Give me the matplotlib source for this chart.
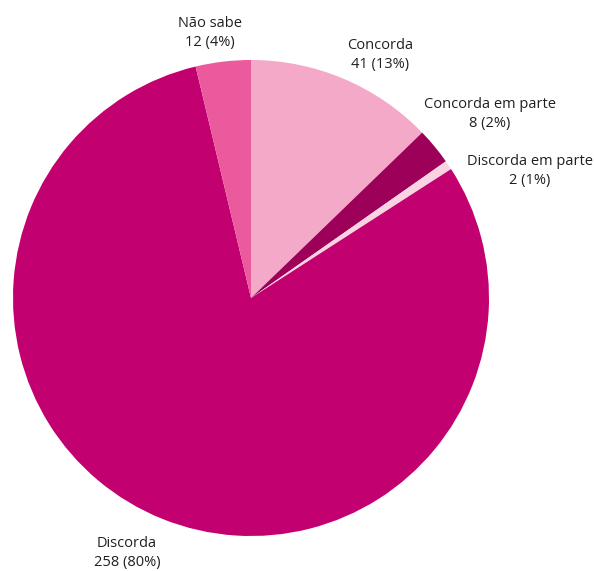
import matplotlib
matplotlib.use("Agg")
import matplotlib.pyplot as plt

categories = ["Concorda", "Concorda em parte", "Discorda em parte", "Discorda", "Não sabe"]
values = [41, 8, 2, 258, 12]
percents = [13, 2, 1, 80, 4]
colors = ["#F4A9C9", "#9C0058", "#FAD3E3", "#C3006F", "#EC5A9E"]

W, H = 594, 571
fig = plt.figure(figsize=(W / 100, H / 100), dpi=100)
ax = fig.add_axes([0, 0, 1, 1])
ax.pie(values, colors=colors, startangle=90, counterclock=False,
       center=(251, H - 298), radius=238, frame=True,
       wedgeprops=dict(linewidth=0))
ax.set_xlim(0, W)
ax.set_ylim(0, H)
ax.set_aspect("equal")
ax.axis("off")

label_pos = [(380, 55), (490, 114), (530, 171), (127, 553), (210, 33)]
for cat, v, p, (x, y) in zip(categories, values, percents, label_pos):
    ax.text(x, H - y, f"{cat}\n{v} ({p}%)", ha="center", va="center",
            fontsize=10.5, color="#231F20", family=["Open Sans", "DejaVu Sans"],
            linespacing=1.35)

fig.savefig("out.png", dpi=100)
